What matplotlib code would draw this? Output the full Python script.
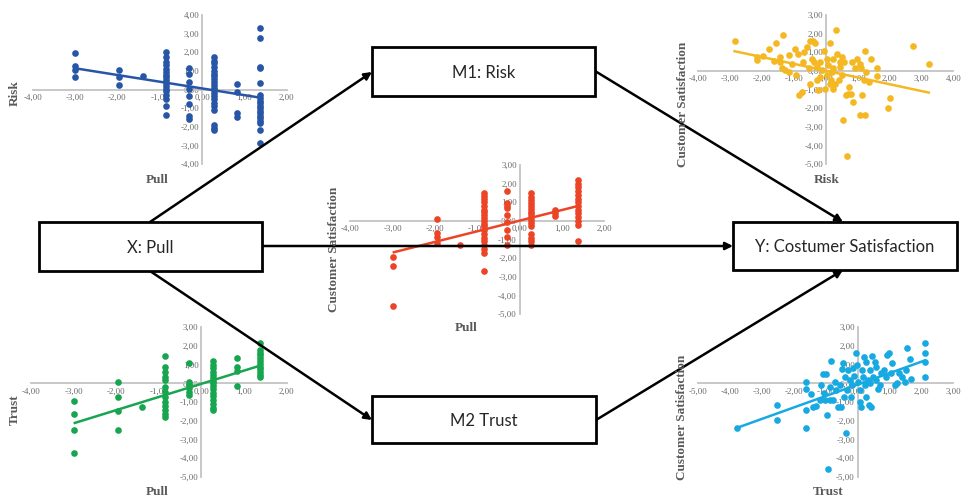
import matplotlib
matplotlib.use("Agg")
import matplotlib.pyplot as plt
from matplotlib.patches import Rectangle, FancyArrowPatch
from matplotlib.ticker import FuncFormatter, MultipleLocator

# ---------------- data ----------------
pull_levels = [-3.0, -1.95, -1.4, -0.85, -0.3, 0.28, 0.83, 1.38]

blue_risk = [
    [1.97, 1.25, 1.05, 0.65],
    [1.04, 0.65, 0.24],
    [0.72],
    [2.03, 1.75, 1.5, 1.3, 1.1, 0.95, 0.8, 0.65, 0.5, 0.35, 0.2, 0.05, -0.1, -0.3, -0.5, -0.9, -1.37],
    [1.15, 0.85, 0.4, 0.05, -0.35, -0.8, -1.4, -1.6],
    [1.72, 1.55, 1.4, 1.2, 1.0, 0.85, 0.7, 0.55, 0.4, 0.25, 0.1, -0.05, -0.2, -0.35, -0.5, -0.7,
     -0.9, -1.1, -1.9, -2.05, -2.2],
    [0.27, -0.12, -1.25, -1.46],
    [3.28, 2.78, 1.22, 1.13, 0.36, -0.3, -0.47, -0.62, -0.74, -0.87, -1.0, -1.14, -1.28, -1.42,
     -1.55, -1.68, -1.82, -2.17, -2.89],
]
blue_trend_x = [-3.0, 1.38]
blue_trend_y = [1.14, -0.44]

red_cs = [
    [-1.96, -2.4, -4.57],
    [0.1, -0.63, -0.88, -1.17],
    [-1.3],
    [1.5, 1.35, 1.2, 1.0, 0.8, 0.6, 0.45, 0.3, 0.15, 0.0, -0.15, -0.3, -0.5, -0.7, -0.9, -1.1,
     -1.3, -1.5, -1.7, -2.67],
    [1.62, 0.98, 0.8, 0.67, 0.31, -0.04, -0.49, -0.88, -1.3],
    [1.51, 1.3, 1.1, 0.95, 0.8, 0.65, 0.5, 0.35, 0.2, 0.05, -0.1, -0.3, -0.7, -0.9, -1.1, -1.3],
    [0.58, 0.4, 0.26],
    [2.2, 2.0, 1.8, 1.6, 1.4, 1.2, 1.0, 0.8, 0.6, 0.4, 0.2, 0.0, -0.2, -1.1],
]
red_trend_x = [-3.0, 1.38]
red_trend_y = [-1.7, 0.8]

green_trust = [
    [-0.93, -1.64, -2.5, -3.75],
    [0.09, -0.71, -1.46, -2.5],
    [-1.29],
    [1.46, 0.89, 0.63, 0.36, 0.18, -0.18, -0.45, -0.71, -0.98, -1.21, -1.43, -1.64, -1.79],
    [1.11, 0.09, -0.09, -0.27, -0.45, -0.63],
    [1.2, 1.0, 0.8, 0.6, 0.45, 0.3, 0.15, 0.0, -0.15, -0.3, -0.5, -0.7, -0.9, -1.1, -1.3, -1.43],
    [1.34, 0.89, 0.68, -0.14],
    [2.14, 1.8, 1.65, 1.5, 1.35, 1.2, 1.05, 0.9, 0.75, 0.6, 0.45, 0.32],
]
green_trend_x = [-3.0, 1.38]
green_trend_y = [-2.14, 0.95]

yellow_risk = [-2.85, -2.17, -2.15, -1.96, -1.77, -1.64, -1.56, -1.43, -1.45, -1.35, -1.38, -1.28,
               -1.17, -1.14, -1.07, -0.96, -0.93, -0.88, -0.83, -0.75, -0.70, -0.68, -0.60, -0.54,
               -0.51, -0.49, -0.41, -0.37, -0.33, -0.28, -0.23, -0.18, -0.13, -0.07, -0.02, 0.03,
               0.08, 0.14, 0.16, 0.19, 0.22, 0.24, 0.29, 0.32, 0.35, 0.40, 0.43, 0.45, 0.50, 0.50,
               0.53, 0.58, 0.64, 0.66, 0.71, 0.74, 0.78, 0.82, 0.85, 0.92, 0.97, 1.06, 1.08, 1.11,
               1.13, 1.20, 1.23, 1.23, 1.27, 1.34, 1.41, 1.62, 1.62, 1.94, 2.02, 2.73, 3.23,
               -0.18, -0.44, 0.24, 0.03, -0.28, 0.14]
yellow_cs = [1.61, 0.72, 0.61, 0.79, 1.20, 0.54, 1.47, 0.75, 0.48, 1.91, 0.13, 0.04,
             -0.05, 0.84, 0.39, 1.20, -0.23, 0.93, -1.30, -1.13, 0.48, 1.02, 1.29, 0.13,
             -0.72, 1.61, 1.61, 0.48, 1.47, 0.21, -1.04, 0.48, 0.04, 1.07, -0.95, -0.23,
             0.30, 1.47, -0.50, -0.05, -0.95, 0.13, -0.68, 2.18, 0.93, -0.50, 0.21, 0.48, 0.75, -0.23,
             -2.65, 0.48, -1.30, -4.58, -1.22, -0.86, -1.22, 0.48, -1.66, 0.13, 0.66, -2.38, 0.39, 0.13,
             -1.30, -0.50, 1.07, -2.38, -0.05, -0.59, 0.66, 0.13, -0.29, -1.97, -1.43, 1.34, 0.39,
             -0.32, 0.66, 0.66, 0.66, -0.50, -0.68]
yellow_trend_x = [-2.9, 3.27]
yellow_trend_y = [1.07, -1.18]

cyan_trust = [-3.78, -2.53, -2.53, -1.63, -1.63, -1.61, -1.61, -1.45, -1.40, -1.30, -1.19, -1.14,
              -1.09, -1.07, -1.04, -0.98, -0.96, -0.93, -0.88, -0.86, -0.83, -0.77, -0.72, -0.69,
              -0.62, -0.56, -0.51, -0.48, -0.46, -0.44, -0.41, -0.38, -0.33, -0.30, -0.25, -0.20,
              -0.17, -0.15, -0.10, -0.04, -0.02, 0.01, 0.06, 0.08, 0.10, 0.12, 0.17, 0.19, 0.22,
              0.25, 0.27, 0.32, 0.36, 0.38, 0.40, 0.43, 0.46, 0.48, 0.53, 0.56, 0.59, 0.64, 0.69,
              0.74, 0.82, 0.88, 0.92, 0.98, 1.03, 1.09, 1.16, 1.23, 1.30, 1.40, 1.47, 1.53, 1.55,
              1.65, 1.68, 2.11, 2.11, 2.11, 2.11]
cyan_cs = [-2.38, -1.16, -1.96, 0.09, -0.32, -1.43, -2.38, -0.57, -1.29, -1.21, -0.89, -0.09,
           0.50, -0.50, -0.89, 0.50, -1.70, -4.61, -0.18, -0.89, 1.21, -0.89, 0.09, -0.36,
           -1.29, -0.09, -1.29, 0.75, 1.07, -0.71, 0.36, -2.68, -0.36, 0.71, 0.18, -0.71,
           -0.09, 0.80, 0.39, 1.61, 0.98, 0.09, -0.36, -0.98, -1.29, 0.71, 0.36, 1.43, -0.09,
           1.16, -0.71, 0.18, -1.16, 0.71, 0.00, -1.29, 1.46, 0.36, 1.16, 0.18, 0.89, -0.32, -0.09,
           0.54, 0.71, 0.36, 1.52, 1.61, 0.54, 1.11, -0.09, 0.04, 0.54, 0.36, 0.09, 0.71, 1.88,
           1.29, 0.21, 2.18, 1.61, 1.16, 0.36]
cyan_trend_x = [-3.78, 2.15]
cyan_trend_y = [-2.38, 1.25]

box_labels = ["X: Pull", "M1: Risk", "M2 Trust", "Y: Costumer Satisfaction"]

# ---------------- figure ----------------
W, H = 962, 499
fig = plt.figure(figsize=(W / 100, H / 100), dpi=100)
fig.patch.set_facecolor("white")

SERIF = ["Liberation Serif", "DejaVu Serif"]
AX_GREY = "#c4c4c4"
LBL_GREY = "#6a6a6a"
TITLE_GREY = "#595959"


def fmt(v, p):
    return f"{v:.2f}".replace(".", ",")


def add_scatter(xpx, ypx, xlim, ylim, xs, ys, tx, ty, color):
    left = xpx[0] / W
    width = (xpx[1] - xpx[0]) / W
    bottom = 1 - ypx[1] / H
    height = (ypx[1] - ypx[0]) / H
    ax = fig.add_axes([left, bottom, width, height])
    ax.set_xlim(*xlim)
    ax.set_ylim(*ylim)
    ax.patch.set_alpha(0)
    for s in ["top", "right"]:
        ax.spines[s].set_visible(False)
    ax.spines["left"].set_position(("data", 0))
    ax.spines["bottom"].set_position(("data", 0))
    for s in ["left", "bottom"]:
        ax.spines[s].set_color(AX_GREY)
        ax.spines[s].set_linewidth(1.3)
    ax.xaxis.set_major_locator(MultipleLocator(1))
    ax.yaxis.set_major_locator(MultipleLocator(1))
    ax.xaxis.set_major_formatter(FuncFormatter(fmt))
    ax.yaxis.set_major_formatter(FuncFormatter(fmt))
    ax.tick_params(axis="both", length=0, labelsize=6.4, labelcolor=LBL_GREY)
    ax.tick_params(axis="x", pad=3)
    ax.tick_params(axis="y", pad=2)
    for lab in ax.get_xticklabels() + ax.get_yticklabels():
        lab.set_family(SERIF)
    ax.plot(xs, ys, "o", color=color, markersize=4.8, markeredgewidth=0, clip_on=False, zorder=3)
    ax.plot(tx, ty, "-", color=color, linewidth=1.8, solid_capstyle="butt", zorder=4)
    return ax


def expand(levels, groups):
    xs, ys = [], []
    for lv, g in zip(levels, groups):
        xs += [lv] * len(g)
        ys += g
    return xs, ys


bx, by = expand(pull_levels, blue_risk)
rx, ry = expand(pull_levels, red_cs)
gx, gy = expand(pull_levels, green_trust)

add_scatter((32.7, 286.7), (15, 164), (-4, 2), (-4, 4), bx, by,
            blue_trend_x, blue_trend_y, "#2856a6")
add_scatter((698.3, 953.3), (15, 164), (-4, 4), (-5, 3), yellow_risk, yellow_cs,
            yellow_trend_x, yellow_trend_y, "#f4b823")
add_scatter((350.3, 604.3), (165, 314), (-4, 2), (-5, 3), rx, ry,
            red_trend_x, red_trend_y, "#ec4426")
add_scatter((31, 286.7), (327.3, 476.7), (-4, 2), (-5, 3), gx, gy,
            green_trend_x, green_trend_y, "#18a550")
add_scatter((698.3, 953.3), (327.3, 476.7), (-5, 3), (-5, 3), cyan_trust, cyan_cs,
            cyan_trend_x, cyan_trend_y, "#17a9e2")

# axis titles
def ftext(x, y, s, rot=0):
    fig.text(x / W, 1 - y / H, s, rotation=rot, ha="center", va="center",
             family=SERIF, fontweight="bold", fontsize=9.5, color=TITLE_GREY)

ftext(15, 93, "Risk", 90)
ftext(157, 180, "Pull")
ftext(683, 104, "Customer Satisfaction", 90)
ftext(827, 180, "Risk")
ftext(334, 249, "Customer Satisfaction", 90)
ftext(466, 328, "Pull")
ftext(15, 410, "Trust", 90)
ftext(157, 492, "Pull")
ftext(682, 417, "Customer Satisfaction", 90)
ftext(828, 492, "Trust")

# ---------------- diagram overlay ----------------
ov = fig.add_axes([0, 0, 1, 1])
ov.set_xlim(0, W)
ov.set_ylim(H, 0)
ov.axis("off")
ov.patch.set_alpha(0)

boxes = [(39, 222, 262, 271), (372, 47, 595, 96), (372, 396, 596, 443), (733, 222, 957, 270)]
for (x0, y0, x1, y1), lab in zip(boxes, box_labels):
    ov.add_patch(Rectangle((x0, y0), x1 - x0, y1 - y0, facecolor="white",
                           edgecolor="black", linewidth=2.0, zorder=5))
    ov.text((x0 + x1) / 2, (y0 + y1) / 2 + 1, lab, ha="center", va="center", fontsize=12,
            family=["Lato", "DejaVu Sans"], color="#262626", zorder=6)

arrows = [((150, 222), (372, 72)), ((150, 271), (372, 420)), ((262, 246), (733, 246)),
          ((595, 71), (843, 222)), ((596, 420), (843, 270))]
for (p0, p1) in arrows:
    ov.add_patch(FancyArrowPatch(p0, p1, arrowstyle="-|>", mutation_scale=11,
                                 linewidth=1.8, color="black", shrinkA=0, shrinkB=0,
                                 zorder=4))

fig.savefig("out.png", dpi=100, facecolor="white")
